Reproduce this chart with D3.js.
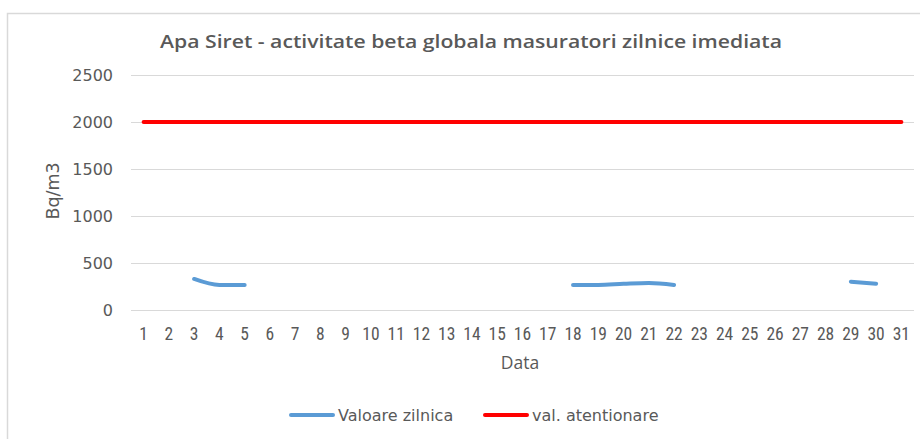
<!DOCTYPE html>
<html>
<head>
<meta charset="utf-8">
<script src="https://cdn.jsdelivr.net/npm/d3@7"></script>
<style>
  body { margin: 0; background: #fff; }
  svg { display: block; }
</style>
</head>
<body>
<div id="chart"></div>
<script>
var days = d3.range(1, 32);
// daily values, null where no measurement
var valoareZilnica = [null, null, 330, 266, 266, null, null, null, null, null, null, null, null, null, null, null, null,
  266, 266, 278, 287, 266, null, null, null, null, null, null, 301, 280, null];
var valAtentionare = days.map(function () { return 2000; });
var yTicks = [0, 500, 1000, 1500, 2000, 2500];

var width = 920, height = 439;
var margin = {top: 75, right: 6, bottom: 129, left: 131};

var svg = d3.select("#chart").append("svg")
  .attr("width", width)
  .attr("height", height);

// chart area border (cut off at the right/bottom)
svg.append("path")
  .attr("d", "M7.5," + height + "V13.5H" + width)
  .attr("fill", "none")
  .attr("stroke", "#d9d9d9")
  .attr("stroke-width", 1.5);

svg.append("text")
  .attr("x", 471)
  .attr("y", 48)
  .attr("text-anchor", "middle")
  .attr("fill", "#595959")
  .attr("font-family", "'Open Sans', sans-serif")
  .attr("font-size", "18px")
  .attr("font-weight", "600")
  .attr("textLength", 622)
  .attr("lengthAdjust", "spacingAndGlyphs")
  .text("Apa Siret - activitate beta globala masuratori zilnice imediata");

var x = d3.scaleBand().domain(days).range([margin.left, width - margin.right]);
var y = d3.scaleLinear().domain([0, 2500]).range([310, margin.top]);

var g = svg.append("g");

g.selectAll("line.grid")
  .data(yTicks)
  .enter().append("line")
  .attr("class", "grid")
  .attr("x1", margin.left)
  .attr("x2", width - margin.right)
  .attr("y1", function (d) { return Math.round(y(d)) + 0.5; })
  .attr("y2", function (d) { return Math.round(y(d)) + 0.5; })
  .attr("stroke", "#d9d9d9")
  .attr("stroke-width", 1);

g.selectAll("text.ytick")
  .data(yTicks)
  .enter().append("text")
  .attr("class", "ytick")
  .attr("x", 113)
  .attr("y", function (d) { return y(d); })
  .attr("dy", "0.35em")
  .attr("text-anchor", "end")
  .attr("fill", "#595959")
  .attr("font-family", "'DejaVu Sans', sans-serif")
  .attr("font-size", "16px")
  .text(function (d) { return d; });

g.selectAll("text.xtick")
  .data(days)
  .enter().append("text")
  .attr("class", "xtick")
  .attr("x", function (d) { return x(d) + x.bandwidth() / 2; })
  .attr("y", 340)
  .attr("text-anchor", "middle")
  .attr("fill", "#595959")
  .attr("font-family", "'Liberation Sans Narrow', 'Roboto Condensed', sans-serif")
  .attr("font-size", "17.5px")
  .text(function (d) { return d; });

svg.append("text")
  .attr("x", 520)
  .attr("y", 369)
  .attr("text-anchor", "middle")
  .attr("fill", "#595959")
  .attr("font-family", "'Open Sans', sans-serif")
  .attr("font-size", "17.5px")
  .text("Data");

svg.append("text")
  .attr("transform", "translate(59,191) rotate(-90)")
  .attr("text-anchor", "middle")
  .attr("fill", "#595959")
  .attr("font-family", "'DejaVu Sans', sans-serif")
  .attr("font-size", "17.5px")
  .text("Bq/m3");

var line = d3.line()
  .defined(function (d) { return d.v != null; })
  .curve(d3.curveMonotoneX)
  .x(function (d) { return x(d.day) + x.bandwidth() / 2; })
  .y(function (d) { return y(d.v); });

g.append("path")
  .datum(days.map(function (d, i) { return {day: d, v: valAtentionare[i]}; }))
  .attr("fill", "none")
  .attr("stroke", "#ff0000")
  .attr("stroke-width", 4)
  .attr("stroke-linecap", "round")
  .attr("d", line);

g.append("path")
  .datum(days.map(function (d, i) { return {day: d, v: valoareZilnica[i]}; }))
  .attr("fill", "none")
  .attr("stroke", "#5b9bd5")
  .attr("stroke-width", 4)
  .attr("stroke-linecap", "round")
  .attr("stroke-linejoin", "round")
  .attr("d", line);

// legend
var legend = [
  {name: "Valoare zilnica", color: "#5b9bd5", x: 291},
  {name: "val. atentionare", color: "#ff0000", x: 485}
];
var lg = svg.selectAll("g.legend")
  .data(legend)
  .enter().append("g")
  .attr("class", "legend")
  .attr("transform", function (d) { return "translate(" + d.x + ",415)"; });
lg.append("line")
  .attr("x1", 0).attr("x2", 42)
  .attr("stroke", function (d) { return d.color; })
  .attr("stroke-width", 4)
  .attr("stroke-linecap", "round");
lg.append("text")
  .attr("x", 47)
  .attr("dy", "0.35em")
  .attr("fill", "#595959")
  .attr("font-family", "'DejaVu Sans', sans-serif")
  .attr("font-size", "16px")
  .text(function (d) { return d.name; });
</script>
</body>
</html>
